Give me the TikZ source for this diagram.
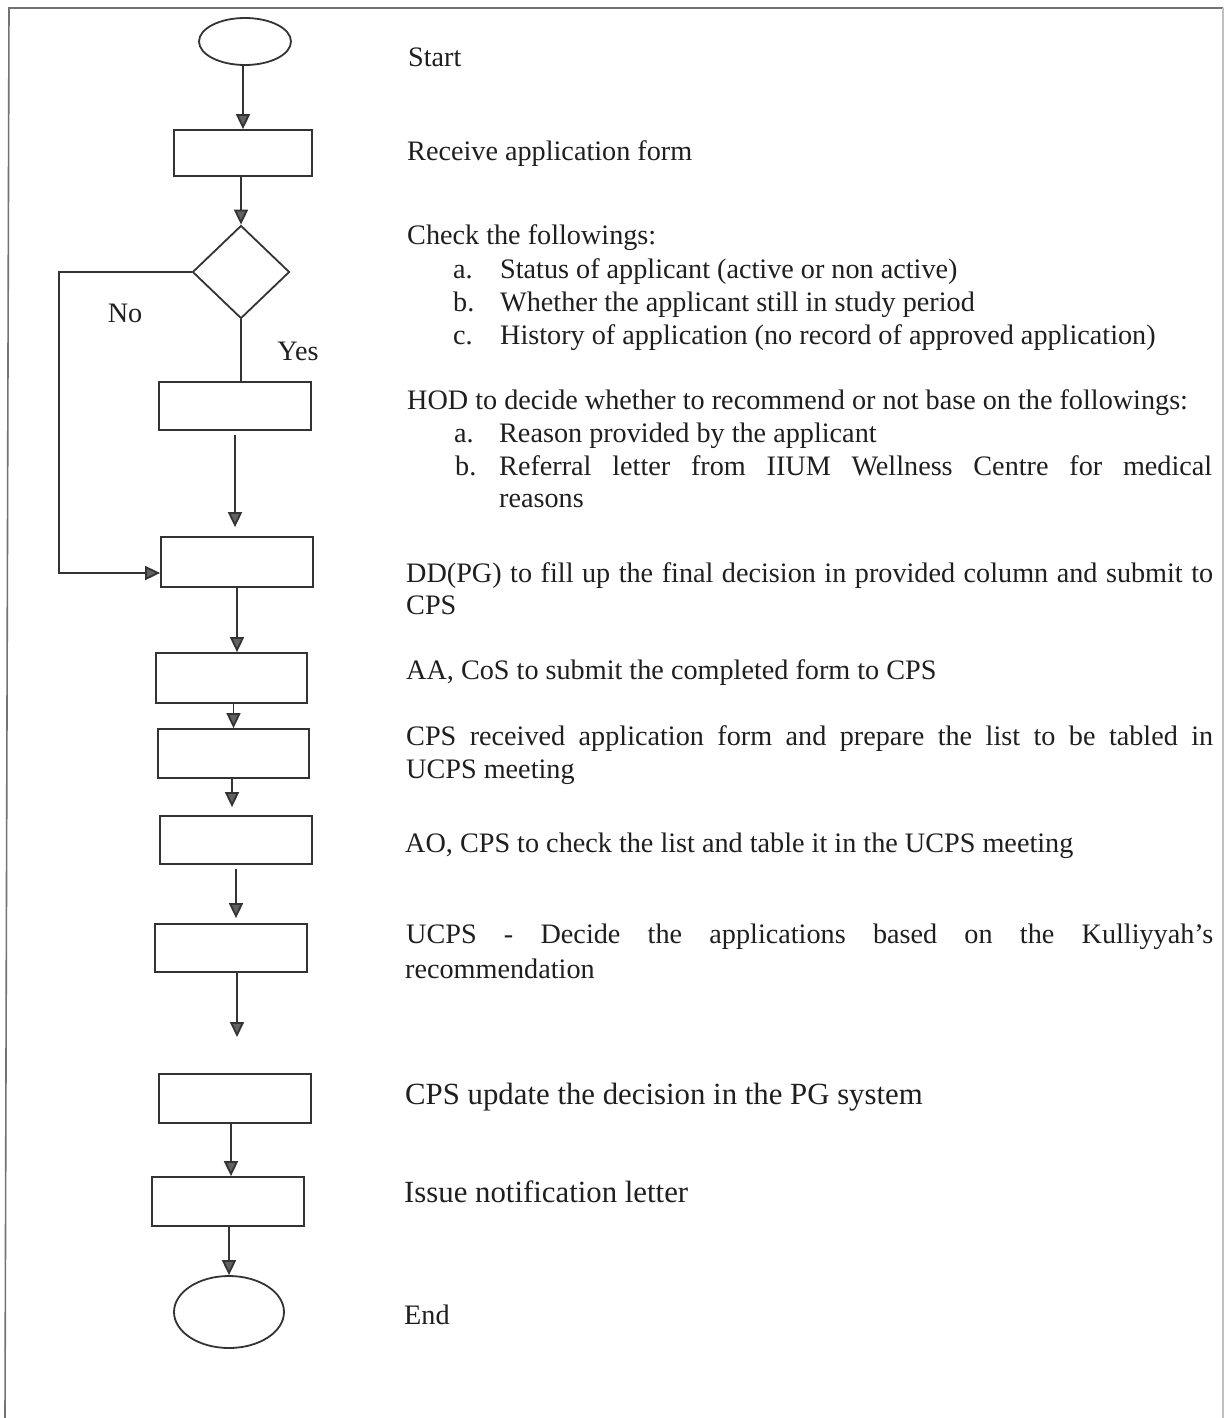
\documentclass[tikz,border=0pt]{standalone}
\usepackage{fontspec}
\setmainfont{Liberation Serif}
\usetikzlibrary{shapes.geometric,arrows.meta,calc}
\begin{document}
\begin{tikzpicture}[x=1pt,y=-1pt,
  box/.style={draw=black!80, line width=1.8pt, inner sep=0pt, rectangle},
  term/.style={draw=black!80, line width=1.8pt, inner sep=0pt, ellipse},
  dec/.style={draw=black!80, line width=1.8pt, inner sep=0pt, diamond},
  arr/.style={draw=black!80, line width=1.8pt, -{Triangle[length=15pt,width=14pt,fill=black!62]}},
  plain/.style={draw=black!80, line width=1.8pt},
  frame/.style={draw=black!55, line width=1.6pt},
  txt/.style={anchor=base west, inner sep=0pt, text=black!88, font=\fontsize{28.2}{33}\selectfont},
  bigtxt/.style={anchor=base west, inner sep=0pt, text=black!88, font=\fontsize{30.8}{36}\selectfont},
  lbl/.style={inner sep=0pt, text=black!88, font=\fontsize{28.2}{33}\selectfont}]
\useasboundingbox (0,0) rectangle (1225,1418);
\fill[white] (0,0) rectangle (1225,1418);
% frame
\draw[frame] (5,1418) -- (9,8) -- (1223,8);
\draw[draw=black!25, line width=1.2pt] (1223,8) -- (1223,1418);

% flowchart shapes
\node[term, minimum width=92pt, minimum height=47pt] (start) at (245,41.5) {};
\node[box, minimum width=138pt, minimum height=46pt] (b1) at (243,153) {};
\node[dec, minimum width=97pt, minimum height=93pt] (dia) at (241,272) {};
\node[box, minimum width=152pt, minimum height=48pt] (b3) at (235,406) {};
\node[box, minimum width=152pt, minimum height=50pt] (b4) at (237,562) {};
\node[box, minimum width=151pt, minimum height=50pt] (b5) at (231.5,678) {};
\node[box, minimum width=151pt, minimum height=49pt] (b6) at (233.5,753.5) {};
\node[box, minimum width=152pt, minimum height=48pt] (b7) at (236,840) {};
\node[box, minimum width=152pt, minimum height=48pt] (b8) at (231,948) {};
\node[box, minimum width=152pt, minimum height=49pt] (b9) at (235,1098.5) {};
\node[box, minimum width=152pt, minimum height=49pt] (b10) at (228,1201.5) {};
\node[term, minimum width=110pt, minimum height=72pt] (end) at (229,1312) {};
\coordinate (dangle) at (237,1037);
\coordinate (nocorner) at (59,272);

% connectors
\draw[arr] (start.south -| b1.north) -- (b1.north);
\draw[arr] (b1.south -| dia.north) -- (dia.north);
\draw[plain] (dia.south) -- (dia.south |- b3.north);
\draw[arr] (dia.west) -- (nocorner) |- ([yshift=-11pt]b4.west);
\draw[arr, shorten <=4pt, shorten >=9pt] (b3.south) -- (b3.south |- b4.north);
\draw[arr] (b4.south) -- (b4.south |- b5.north);
\draw[arr] (b5.south -| b6.north) -- (b6.north);
\draw[arr, shorten >=8pt] (b6.south -| 232,0) -- (b7.north -| 232,0);
\draw[arr, shorten <=4pt, shorten >=5pt] (b7.south) -- (b7.south |- b8.north);
\draw[arr] (b8.south -| dangle) -- (dangle);
\draw[arr] (b9.south -| 231,0) -- (b10.north -| 231,0);
\draw[arr] (b10.south -| end.north) -- (end.north);

% branch labels
\node[lbl] (no) at (125,313) {No};
\node[lbl] (yes) at (298,351) {Yes};

% description text
\node[txt] (t1) at (408,67) {Start};
\node[txt] (t2) at (407,160) {Receive application form};
\node[txt] (t3) at (407,244) {Check the followings:};
\node[txt] (t4) at (453,278) {\makebox[47pt][l]{a.}Status of applicant (active or non active)};
\node[txt] (t5) at (453,311) {\makebox[47pt][l]{b.}Whether the applicant still in study period};
\node[txt] (t6) at (453,344) {\makebox[47pt][l]{c.}History of application (no record of approved application)};
\node[txt] (t7) at (407,409) {HOD to decide whether to recommend or not base on the followings:};
\node[txt] (t8) at (454,442) {\makebox[45pt][l]{a.}Reason provided by the applicant};
\node[txt] (t9) at (455,475) {\makebox[44pt][l]{b.}\makebox[713pt][s]{Referral letter from IIUM Wellness Centre for medical}};
\node[txt] (t10) at (499,507) {reasons};
\node[txt] (t11) at (406,582) {\makebox[807pt][s]{DD(PG) to fill up the final decision in provided column and submit to}};
\node[txt] (t12) at (406,614) {CPS};
\node[txt] (t13) at (406,679) {AA, CoS to submit the completed form to CPS};
\node[txt] (t14) at (406,745) {\makebox[807pt][s]{CPS received application form and prepare the list to be tabled in}};
\node[txt] (t15) at (406,778) {UCPS meeting};
\node[txt] (t16) at (405,852) {AO, CPS to check the list and table it in the UCPS meeting};
\node[txt] (t17) at (406,943) {\makebox[807pt][s]{UCPS - Decide the applications based on the Kulliyyah’s}};
\node[txt] (t18) at (405,978) {recommendation};
\node[bigtxt] (t19) at (405,1104) {CPS update the decision in the PG system};
\node[bigtxt] (t20) at (404,1202) {Issue notification letter};
\node[txt] (t21) at (404,1324) {End};
\end{tikzpicture}
\end{document}
